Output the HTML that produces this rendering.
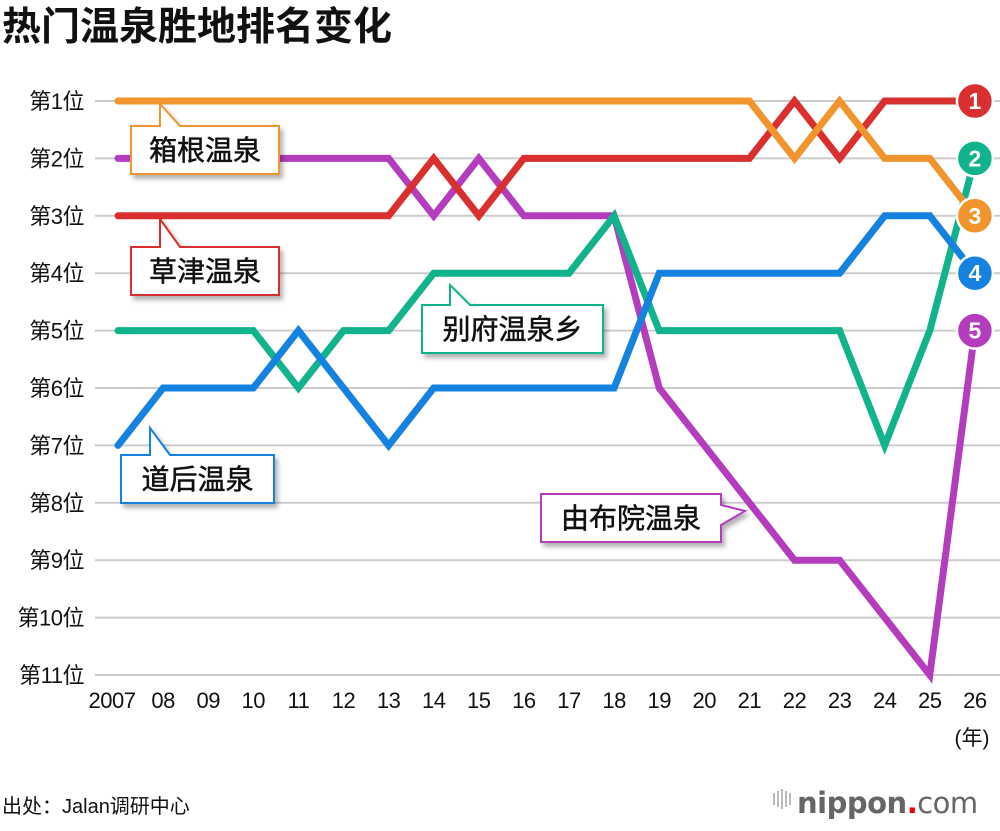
<!DOCTYPE html>
<html><head><meta charset="utf-8">
<style>
body{margin:0;background:#fff;width:1000px;height:826px;overflow:hidden;font-family:"Liberation Sans","Noto Sans CJK SC",sans-serif;}
</style></head>
<body>
<svg id="chart" width="1000" height="826" xmlns="http://www.w3.org/2000/svg" font-family="'Liberation Sans','Noto Sans CJK SC',sans-serif">
<defs><filter id="sh" x="-10%" y="-10%" width="130%" height="140%"><feDropShadow dx="3" dy="4" stdDeviation="2.5" flood-color="#000" flood-opacity="0.3"/></filter></defs>
<text x="2" y="40" font-size="39" font-weight="bold" fill="#111">热门温泉胜地排名变化</text>
<g id="grid"></g><g id="lines"></g><g id="labels"></g>
<text x="2" y="813" font-size="20" fill="#111">出处：Jalan调研中心</text>
<g>
<g fill="#bbb"><rect x="773" y="793" width="2" height="12"/><rect x="777" y="791" width="2" height="16"/><rect x="781" y="789" width="2" height="20"/><rect x="785" y="791" width="2" height="16"/><rect x="789" y="793" width="2" height="12"/></g>
<text x="797" y="813" font-size="29" fill="#666" font-weight="bold" font-family="'DejaVu Sans',sans-serif" letter-spacing="-0.5">nippon<tspan fill="#e00">.</tspan><tspan font-weight="normal">com</tspan></text>
</g>
</svg>
<script>
const years=["2007","08","09","10","11","12","13","14","15","16","17","18","19","20","21","22","23","24","25","26"];
const rankLabels=["第1位","第2位","第3位","第4位","第5位","第6位","第7位","第8位","第9位","第10位","第11位"];
const hakone=[1,1,1,1,1,1,1,1,1,1,1,1,1,1,1,2,1,2,2,3];
const kusatsu=[3,3,3,3,3,3,3,2,3,2,2,2,2,2,2,1,2,1,1,1];
const yufuin=[2,2,2,2,2,2,2,3,2,3,3,3,6,7,8,9,9,10,11,5];
const beppu=[5,5,5,5,6,5,5,4,4,4,4,3,5,5,5,5,5,7,5,2];
const dogo=[7,6,6,6,5,6,7,6,6,6,6,6,4,4,4,4,4,3,3,4];
const NS="http://www.w3.org/2000/svg";
const X=i=>118+i*45.1, Y=r=>101+(r-1)*57.4;
function mk(t,a,p){const e=document.createElementNS(NS,t);for(const k in a)e.setAttribute(k,a[k]);p.appendChild(e);return e;}
const grid=document.getElementById('grid');
rankLabels.forEach((l,i)=>{
 const ln=mk('line',{x1:95,x2:1000,y1:Y(i+1),y2:Y(i+1),stroke:'#ccc','stroke-width':2},grid);
 
 
 const t=mk('text',{x:84,y:Y(i+1)+8,'font-size':22,'text-anchor':'end',fill:'#111','letter-spacing':'-0.5'},grid);t.textContent=l;
 
 
});
years.forEach((y,i)=>{
 const t=mk('text',{x:X(i)+(i==0?-6:0),y:708,'font-size':22,'text-anchor':'middle',fill:'#111','letter-spacing':'-0.5'},grid);t.textContent=y;
 
 
});
const u=mk('text',{x:972,y:745,'font-size':21,'text-anchor':'middle',fill:'#111'},grid);u.textContent='(年)';


const series=[["yufuin",yufuin,"#b43dbd"],["beppu",beppu,"#11b38c"],["dogo",dogo,"#1582e0"],["kusatsu",kusatsu,"#d92f2f"],["hakone",hakone,"#f0952e"]];
const lines=document.getElementById('lines');
series.forEach(([n,d,c])=>{
 const p=mk('polyline',{points:d.map((r,i)=>X(i)+','+Y(r)).join(' '),fill:'none',stroke:c,'stroke-width':7,'stroke-linejoin':'miter','stroke-linecap':'round'},lines);
 
 
});
series.forEach(([n,d,c])=>{
 const last=d[d.length-1];
 const g=mk('g',{},lines);
 
 
 mk('circle',{cx:X(19),cy:Y(last),r:18,fill:c,stroke:'#fff','stroke-width':2.5},g);
 const t=mk('text',{x:X(19),y:Y(last)+8,'font-size':23,'font-weight':'bold','text-anchor':'middle',fill:'#fff'},g);t.textContent=last;
});
const labs=[["hakone-label","箱根温泉","#f0952e",131,126,148,48,"top",160,104],
["kusatsu-label","草津温泉","#d92f2f",131,247,148,48,"top",160,219],
["beppu-label","别府温泉乡","#11b38c",422,305,181,48,"top",450,285],
["dogo-label","道后温泉","#1582e0",121,455,153,48,"top",150,428],
["yufuin-label","由布院温泉","#b43dbd",541,494,180,48,"right",745,511]];
const L=document.getElementById('labels');
labs.forEach(([n,txt,c,x,y,w,h,side,tx,ty])=>{
 const g=mk('g',{},L);
 
 
 let d;
 if(side=="top") d=`M${x},${y} H${tx} V${ty} L${tx+20},${y} H${x+w} V${y+h} H${x} Z`;
 else d=`M${x},${y} H${x+w} V${ty-6} L${tx},${ty} L${x+w},${ty+14} V${y+h} H${x} Z`;
 mk('path',{d:d,fill:'#fff',stroke:c,'stroke-width':2,filter:'url(#sh)'},g);
 const t=mk('text',{x:x+w/2,y:y+34,'font-size':28,'text-anchor':'middle',fill:'#111',stroke:'#111','stroke-width':0.5},g);t.textContent=txt;
});
</script>
</body></html>
